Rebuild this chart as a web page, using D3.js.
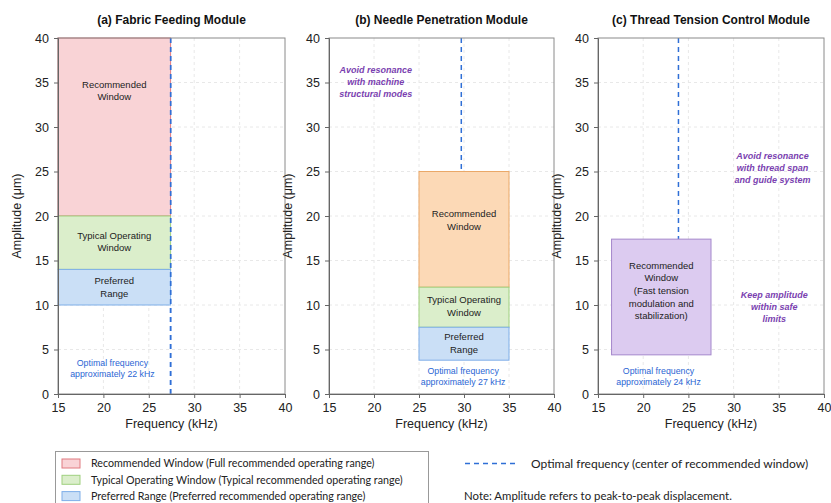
<!DOCTYPE html>
<html><head><meta charset="utf-8">
<script src="https://cdn.jsdelivr.net/npm/d3@7"></script>
<style>body{margin:0;background:#fff}svg{display:block}</style>
</head><body>
<svg id="c" width="831" height="503"></svg>
<script>
// ---- data ----
const panelTitles = ["(a) Fabric Feeding Module", "(b) Needle Penetration Module", "(c) Thread Tension Control Module"];
const xTicks = [15, 20, 25, 30, 35, 40];
const yTicks = [0, 5, 10, 15, 20, 25, 30, 35, 40];
const optimalFreq = [27.4, 29.7, 23.9];
const optimalLineFrom = [0, 25, 17.4];
const optimalText = ["Optimal frequency approximately 22 kHz", "Optimal frequency approximately 27 kHz", "Optimal frequency approximately 24 kHz"];
const regionsA = [
  {kind: "rec", x0: 15, x1: 27.4, y0: 20, y1: 40, label: ["Recommended", "Window"], ly: 34.1},
  {kind: "typ", x0: 15, x1: 27.4, y0: 14, y1: 20, label: ["Typical Operating", "Window"], ly: 17.1},
  {kind: "pref", x0: 15, x1: 27.4, y0: 10, y1: 14, label: ["Preferred", "Range"], ly: 12.0}
];
const regionsB = [
  {kind: "orange", x0: 25, x1: 35, y0: 12, y1: 25, label: ["Recommended", "Window"], ly: 19.5},
  {kind: "typ", x0: 25, x1: 35, y0: 7.5, y1: 12, label: ["Typical Operating", "Window"], ly: 9.9},
  {kind: "pref", x0: 25, x1: 35, y0: 3.8, y1: 7.5, label: ["Preferred", "Range"], ly: 5.7}
];
const regionsC = [
  {kind: "purple", x0: 16.5, x1: 27.5, y0: 4.4, y1: 17.4, label: ["Recommended", "Window", "(Fast tension", "modulation and", "stabilization)"], ly: 11.6}
];
const notesB = [{text: ["Avoid resonance", "with machine", "structural modes"], x: 20.2, y: 35.1}];
const notesC = [
  {text: ["Avoid resonance", "with thread span", "and guide system"], x: 34.3, y: 25.4},
  {text: ["Keep amplitude", "within safe", "limits"], x: 34.5, y: 9.8}
];
const legendItems = [
  {kind: "rec", text: "Recommended Window (Full recommended operating range)"},
  {kind: "typ", text: "Typical Operating Window (Typical recommended operating range)"},
  {kind: "pref", text: "Preferred Range (Preferred recommended operating range)"}
];
const legendLineText = "Optimal frequency (center of recommended window)";
const noteText = "Note: Amplitude refers to peak-to-peak displacement.";

// ---- styles ----
const fills = {rec: "#f9d3d6", typ: "#dbeecb", pref: "#cadff6", orange: "#fcd9b6", purple: "#dccbf0"};
const strokes = {rec: "#e07a80", typ: "#9fd07f", pref: "#7eaee8", orange: "#eaa868", purple: "#a487cc"};
const optOffsets = [{x: 21, y: 2.9}, {x: 29.9, y: 2.0}, {x: 21.7, y: 2.0}];
const regions = [regionsA, regionsB, regionsC];
const notes = [[], notesB, notesC];
const plots = [{l: 58, r: 285}, {l: 329, r: 554}, {l: 598, r: 824}];
const pTop = 38, pBottom = 394;
const font = "'Liberation Sans', Arial, sans-serif";

const svg = d3.select("#c");

plots.forEach((p, i) => {
  const x = d3.scaleLinear().domain([15, 40]).range([p.l, p.r]);
  const y = d3.scaleLinear().domain([0, 40]).range([pBottom, pTop]);
  const g = svg.append("g");

  // grid
  g.selectAll(".gx").data(xTicks.slice(1, -1)).enter().append("line")
    .attr("x1", d => x(d)).attr("x2", d => x(d)).attr("y1", pTop).attr("y2", pBottom)
    .attr("stroke", "#e8e8e8").attr("stroke-dasharray", "3,3");
  g.selectAll(".gy").data(yTicks.slice(1, -1)).enter().append("line")
    .attr("y1", d => y(d)).attr("y2", d => y(d)).attr("x1", p.l).attr("x2", p.r)
    .attr("stroke", "#e8e8e8").attr("stroke-dasharray", "3,3");

  const drawOpt = () => g.append("line").attr("x1", x(optimalFreq[i])).attr("x2", x(optimalFreq[i]))
    .attr("y1", y(40)).attr("y2", y(optimalLineFrom[i]))
    .attr("stroke", "#2f6fd6").attr("stroke-width", 1.5).attr("stroke-dasharray", "5,4");
  drawOpt();

  // regions
  regions[i].forEach(r => {
    g.append("rect").attr("x", x(r.x0)).attr("y", y(r.y1))
      .attr("width", x(r.x1) - x(r.x0)).attr("height", y(r.y0) - y(r.y1))
      .attr("fill", fills[r.kind]).attr("stroke", strokes[r.kind]).attr("stroke-width", 1);
    const n = r.label.length, lh = 12.6;
    const cx = x((r.x0 + r.x1) / 2), cy = y(r.ly);
    const t = g.append("text").attr("text-anchor", "middle").attr("font-family", font)
      .attr("font-size", 9.5).attr("fill", "#222");
    r.label.forEach((s, k) => t.append("tspan").attr("x", cx)
      .attr("y", cy + (k - (n - 1) / 2) * lh).attr("dy", "0.35em").text(s));
  });
  if (i === 0) drawOpt();

  // frame
  g.append("rect").attr("x", p.l).attr("y", pTop).attr("width", p.r - p.l).attr("height", pBottom - pTop)
    .attr("fill", "none").attr("stroke", "#8a8a8a").attr("stroke-width", 1);

  // axes
  const ax = g.append("g").attr("transform", `translate(0,${pBottom})`)
    .call(d3.axisBottom(x).tickValues(xTicks).tickSize(4).tickPadding(5));
  const ay = g.append("g").attr("transform", `translate(${p.l},0)`)
    .call(d3.axisLeft(y).tickValues(yTicks).tickSize(4).tickPadding(5));
  [ax, ay].forEach(a => {
    a.select(".domain").attr("stroke", "#666");
    a.selectAll(".tick line").attr("stroke", "#666");
    a.selectAll("text").attr("font-family", font).attr("font-size", 12.5).attr("fill", "#222");
  });

  // titles
  g.append("text").attr("x", (p.l + p.r) / 2).attr("y", 20).attr("dy", "0.35em")
    .attr("text-anchor", "middle").attr("font-family", font).attr("font-weight", "bold")
    .attr("font-size", 12).attr("fill", "#111").text(panelTitles[i]);
  g.append("text").attr("x", (p.l + p.r) / 2).attr("y", 428).attr("text-anchor", "middle")
    .attr("font-family", font).attr("font-size", 12.5).attr("fill", "#222").text("Frequency (kHz)");
  g.append("text").attr("transform", `translate(${p.l - 37},${(pTop + pBottom) / 2}) rotate(-90)`)
    .attr("text-anchor", "middle").attr("font-family", font).attr("font-size", 12.5)
    .attr("fill", "#222").text("Amplitude (μm)");

  // optimal text
  const words = optimalText[i];
  const ot = g.append("text").attr("text-anchor", "middle").attr("font-family", font)
    .attr("font-size", 8.8).attr("fill", "#2b66d4");
  const parts = [words.slice(0, 17), words.slice(18)];
  parts.forEach((s, k) => ot.append("tspan").attr("x", x(optOffsets[i].x))
    .attr("y", y(optOffsets[i].y) + (k - 0.5) * 11.5).attr("dy", "0.35em").text(s));

  // notes
  notes[i].forEach(nn => {
    const t = g.append("text").attr("text-anchor", "middle").attr("font-family", font)
      .attr("font-size", 9).attr("font-weight", "bold").attr("font-style", "italic").attr("fill", "#7a3fb0");
    nn.text.forEach((s, k) => t.append("tspan").attr("x", x(nn.x))
      .attr("y", y(nn.y) + (k - 1) * 12).attr("dy", "0.35em").text(s));
  });
});

// legend
const lfont = "Lato, 'Open Sans', sans-serif";
svg.append("rect").attr("x", 55.5).attr("y", 451.5).attr("width", 373).attr("height", 60)
  .attr("fill", "#fff").attr("stroke", "#999");
legendItems.forEach((d, k) => {
  const cy = 463.5 + k * 16.3;
  svg.append("rect").attr("x", 62).attr("y", cy - 4.5).attr("width", 18).attr("height", 9)
    .attr("fill", fills[d.kind]).attr("stroke", strokes[d.kind]);
  svg.append("text").attr("x", 91).attr("y", cy).attr("dy", "0.35em").attr("font-family", lfont)
    .attr("font-size", 10.7).attr("fill", "#222").text(d.text);
});
svg.append("line").attr("x1", 465).attr("x2", 519).attr("y1", 463.5).attr("y2", 463.5)
  .attr("stroke", "#2f6fd6").attr("stroke-width", 1.5).attr("stroke-dasharray", "5,4");
svg.append("text").attr("x", 531).attr("y", 463.5).attr("dy", "0.35em").attr("font-family", lfont)
  .attr("font-size", 12).attr("fill", "#222").text(legendLineText);
svg.append("text").attr("x", 464).attr("y", 496.5).attr("dy", "0.35em").attr("font-family", lfont)
  .attr("font-size", 11.4).attr("fill", "#222").text(noteText);
</script>
</body></html>
